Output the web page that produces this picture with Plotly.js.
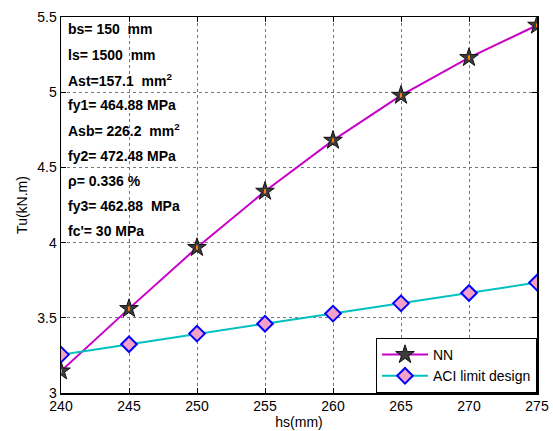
<!DOCTYPE html>
<html>
<head>
<meta charset="utf-8">
<script src="https://cdn.plot.ly/plotly-3.0.1.min.js"></script>
<style>
  html, body { margin: 0; padding: 0; background: #fff; }
  #chart { width: 553px; height: 431px; }
</style>
</head>
<body>
<div id="chart"></div>
<script>
// Slab depth hs (mm) against torsional capacity Tu (kN.m)
const hs = [240, 245, 250, 255, 260, 265, 270, 275];
const tuNN = [3.146, 3.561, 3.967, 4.341, 4.680, 4.979, 5.230, 5.445];
const tuACI = [3.255, 3.324, 3.395, 3.461, 3.528, 3.596, 3.665, 3.734];

const xTicks = [240, 245, 250, 255, 260, 265, 270, 275];
const yTicks = [3, 3.5, 4, 4.5, 5, 5.5];

// Section and material parameters listed in the upper-left corner
const paramLines = [
  'bs= 150  mm',
  'ls= 1500  mm',
  'Ast=157.1  mm<sup>2</sup>',
  'fy1= 464.88 MPa',
  'Asb= 226.2  mm<sup>2</sup>',
  'fy2= 472.48 MPa',
  'ρ= 0.336 %',
  'fy3= 462.88  MPa',
  "fc'= 30 MPa"
];

const FONT = '"Liberation Sans", Arial, sans-serif';

const traces = [
  {
    x: hs, y: tuNN, name: 'NN', type: 'scatter', mode: 'lines+markers',
    line: { color: '#c800c8', width: 2 },
    marker: { symbol: 'star', size: 14, color: '#3c3c3c', line: { color: '#111', width: 1 } }
  },
  {
    x: hs, y: tuNN, name: 'NN-core', type: 'scatter', mode: 'markers',
    showlegend: false, hoverinfo: 'skip',
    marker: { symbol: 'line-ns-open', size: 3, line: { color: '#f0f000', width: 2 } }
  },
  {
    x: hs, y: tuACI, name: 'ACI limit design', type: 'scatter', mode: 'lines+markers',
    line: { color: '#00c0c0', width: 2 },
    marker: { symbol: 'diamond', size: 12, color: '#f4a0c8', line: { color: '#0000ff', width: 2 } }
  }
];

const plotH = 431 - 17 - 38;
const annotations = paramLines.map((t, i) => ({
  xref: 'paper', yref: 'paper',
  x: 0.01, y: 1 - (12.5 + 25.2 * i) / plotH,
  xanchor: 'left', yanchor: 'middle',
  text: '<b>' + t + '</b>', showarrow: false, align: 'left',
  font: { family: FONT, size: 14, color: '#000' }
}));

const axisCommon = {
  showline: true, linecolor: '#000', linewidth: 1.5, mirror: 'allticks',
  ticks: 'inside', ticklen: 5, tickcolor: '#000', tickwidth: 1,
  showgrid: true, gridcolor: '#777', griddash: 'dot', gridwidth: 1,
  zeroline: false,
  tickfont: { family: FONT, size: 14, color: '#000' }
};

const layout = {
  width: 553, height: 431,
  margin: { l: 61, r: 16, t: 17, b: 38 },
  paper_bgcolor: '#fff', plot_bgcolor: '#fff',
  font: { family: FONT, size: 14, color: '#000' },
  showlegend: true,
  xaxis: Object.assign({}, axisCommon, {
    range: [240, 275], tickvals: xTicks, ticktext: xTicks.map(String),
    title: { text: 'hs(mm)', standoff: 2, font: { family: FONT, size: 14, color: '#000' } }
  }),
  yaxis: Object.assign({}, axisCommon, {
    range: [3, 5.5], tickvals: yTicks, ticktext: yTicks.map(String),
    title: { text: 'Tu(kN.m)', standoff: 6, font: { family: FONT, size: 14, color: '#000' } }
  }),
  legend: {
    x: 1, y: 0, xanchor: 'right', yanchor: 'bottom',
    bgcolor: '#fff', bordercolor: '#000', borderwidth: 1,
    font: { family: FONT, size: 14, color: '#000' },
    tracegroupgap: 0, itemwidth: 46
  },
  annotations: annotations
};

Plotly.newPlot('chart', traces, layout, { displayModeBar: false, staticPlot: true });
</script>
</body>
</html>
